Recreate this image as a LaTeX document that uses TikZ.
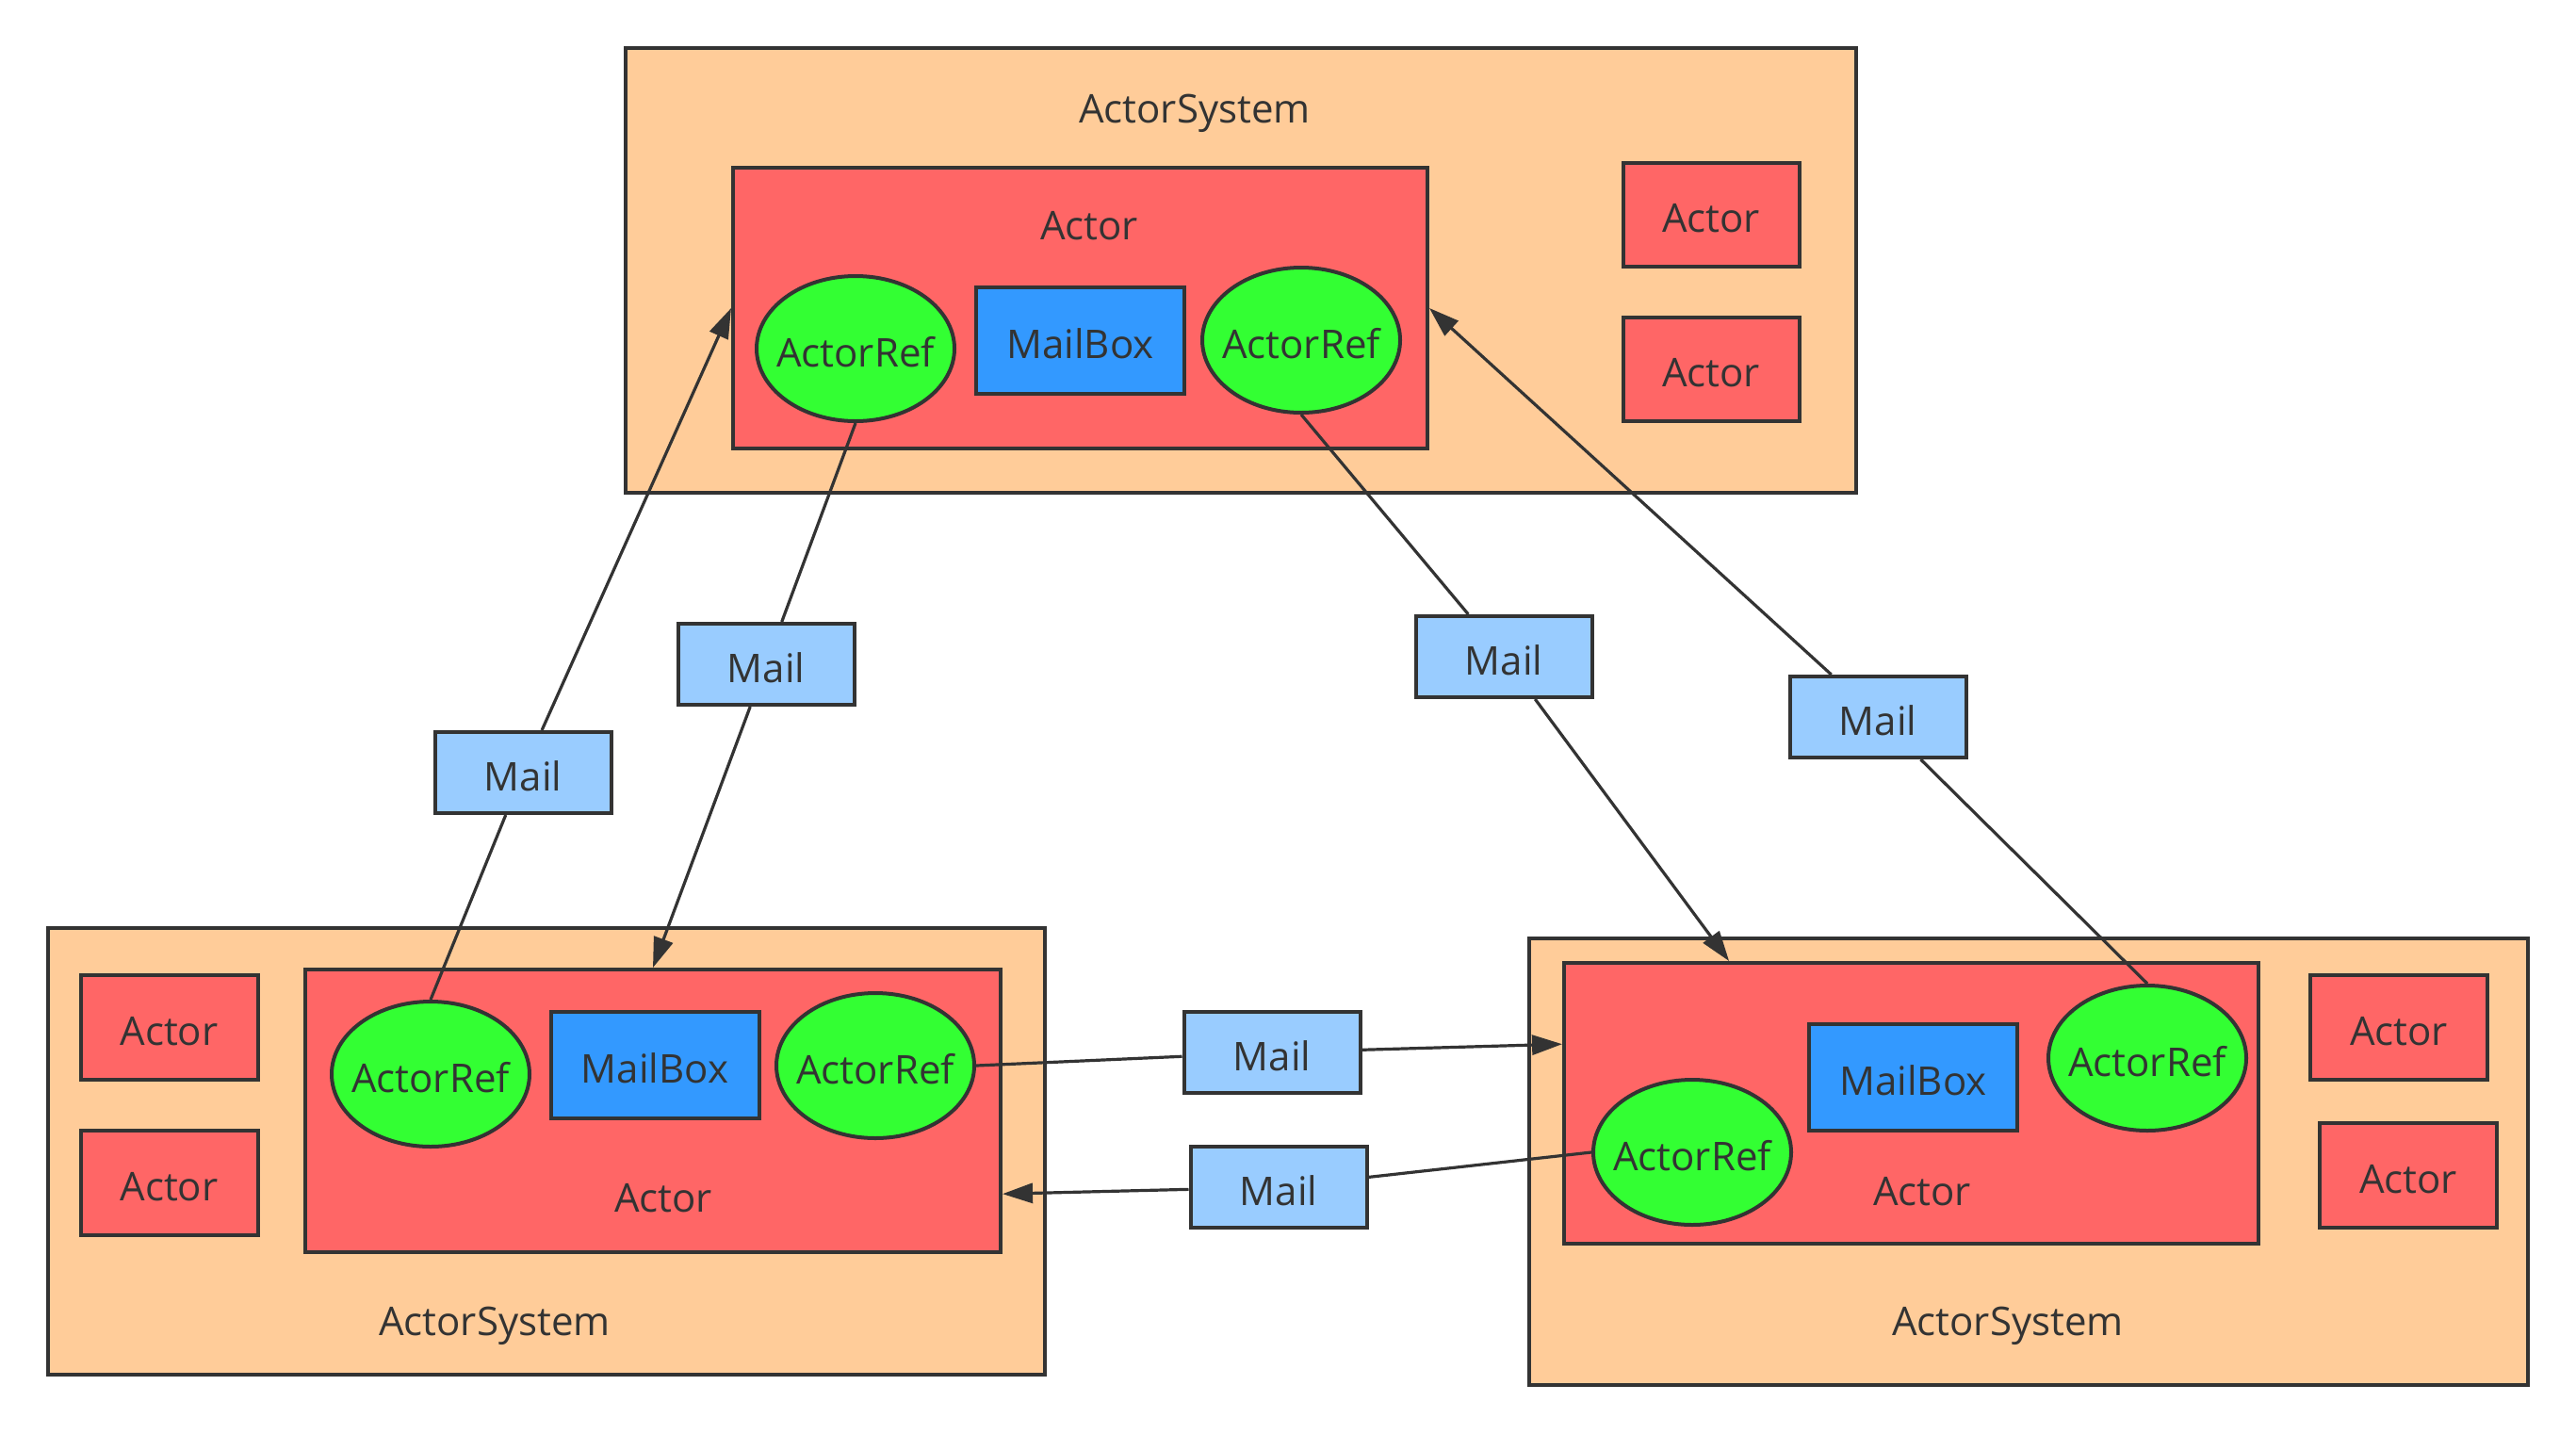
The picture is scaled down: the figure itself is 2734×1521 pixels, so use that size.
\documentclass[tikz,border=0pt]{standalone}
\usepackage{fontspec}
\setmainfont{Open Sans}
\usetikzlibrary{arrows.meta,calc,shapes.geometric}
\definecolor{sysc}{HTML}{FFCC99}
\definecolor{actc}{HTML}{FF6666}
\definecolor{refc}{HTML}{33FF33}
\definecolor{mbc}{HTML}{3399FF}
\definecolor{mailc}{HTML}{99CCFF}
\definecolor{linec}{HTML}{333333}
\begin{document}
\begin{tikzpicture}[x=0.5pt,y=-0.5pt,
  txt/.style={text=linec, font=\fontsize{21}{25}\selectfont, text height=19pt, text depth=0pt},
  sz/.style 2 args={minimum width={#1*0.5pt}, minimum height={#2*0.5pt}},
  box/.style={txt, draw=linec, line width=2pt, inner sep=0pt, rectangle},
  sysbox/.style={box, fill=sysc},
  actbox/.style={box, fill=actc},
  mbox/.style={box, fill=mbc, sz={221}{113}},
  mailbox/.style={box, fill=mailc, sz={187}{86}},
  refe/.style={txt, draw=linec, line width=2pt, fill=refc, ellipse, inner sep=0pt, sz={210}{154}},
  lbl/.style={txt, inner sep=0pt},
  conn/.style={draw=linec, line width=1.6pt},
  arr/.style={conn, -{Triangle[length=16pt,width=10.5pt]}}
]
\fill[white] (0,0) rectangle (2734,1521);
\useasboundingbox (0,0) rectangle (2734,1521);

% ---------- top ActorSystem ----------
\node[sysbox, sz={1306}{472}] (tS) at (1317,287) {};
\node[lbl] (tSl) at (1268,111) {ActorSystem};
\node[actbox, sz={737}{298}] (tA) at (1146.5,327) {};
\node[lbl] (tAl) at (1156,235) {Actor};
\node[refe] (tR1) at (908,370) {\makebox[0pt]{ActorRef}};
\node[mbox] (tM) at (1146.5,361) {MailBox};
\node[refe] (tR2) at (1381,361) {\makebox[0pt]{ActorRef}};
\node[actbox, sz={187}{110}] (tA2) at (1816,227.5) {Actor};
\node[actbox, sz={187}{110}] (tA3) at (1816,391.5) {Actor};

% ---------- bottom-left ActorSystem ----------
\node[sysbox, sz={1058}{474}] (blS) at (580,1222) {};
\node[lbl] (blSl) at (525,1398) {ActorSystem};
\node[actbox, sz={188}{111}] (blA2) at (179.5,1090) {Actor};
\node[actbox, sz={188}{111}] (blA3) at (179.5,1255) {Actor};
\node[actbox, sz={738}{300}] (blA) at (693,1179) {};
\node[lbl] (blAl) at (704,1267) {Actor};
\node[refe] (blR1) at (457,1140) {\makebox[0pt]{ActorRef}};
\node[mbox] (blM) at (695,1130.5) {MailBox};
\node[refe] (blR2) at (929,1131) {\makebox[0pt]{ActorRef}};

% ---------- bottom-right ActorSystem ----------
\node[sysbox, sz={1060}{474}] (brS) at (2153,1233) {};
\node[lbl] (brSl) at (2131,1398) {ActorSystem};
\node[actbox, sz={737}{298}] (brA) at (2028.5,1171) {};
\node[lbl] (brAl) at (2040,1260) {Actor};
\node[mbox] (brM) at (2030.5,1143) {MailBox};
\node[refe] (brR1) at (1796,1223) {\makebox[0pt]{ActorRef}};
\node[refe] (brR2) at (2279,1123) {\makebox[0pt]{ActorRef}};
\node[actbox, sz={188}{111}] (brA2) at (2546,1090) {Actor};
\node[actbox, sz={188}{111}] (brA3) at (2556,1247) {Actor};

% ---------- Mail nodes ----------
\node[mailbox] (m1) at (555,820) {Mail};
\node[mailbox] (m2) at (813,705) {Mail};
\node[mailbox] (m3) at (1596,697) {Mail};
\node[mailbox] (m4) at (1993,761) {Mail};
\node[mailbox] (m5) at (1350,1117) {Mail};
\node[mailbox] (m6) at (1357,1260) {Mail};

% ---------- connectors ----------
\draw[conn] (blR1.north) -- (m1);
\draw[arr] (m1) -- (tA.west);
\draw[conn] (tR1.south) -- (m2);
\draw[arr] (m2) -- (blA.north);
\draw[conn] (tR2.south) -- (m3);
\draw[arr] (m3) -- ($(brA.north west)!0.239!(brA.north east)$);
\draw[conn] (brR2.north) -- (m4);
\draw[arr] (m4) -- (tA.east);
\draw[conn] (blR2.east) -- (m5);
\draw[arr] (m5) -- ($(brA.north west)!0.292!(brA.south west)$);
\draw[conn] (brR1.west) -- (m6);
\draw[arr] (m6) -- ($(blA.north east)!0.79!(blA.south east)$);
\end{tikzpicture}
\end{document}
